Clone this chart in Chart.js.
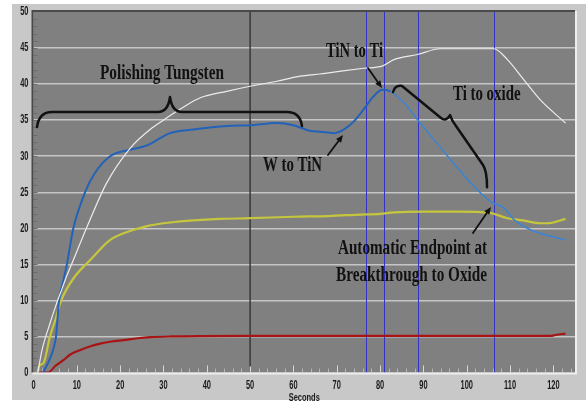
<!DOCTYPE html>
<html>
<head>
<meta charset="utf-8">
<title>Endpoint trace</title>
<script src="https://cdn.jsdelivr.net/npm/chart.js@4.4.1/dist/chart.umd.min.js"></script>
<style>
  html, body { margin: 0; padding: 0; background: #fff; }
  canvas { display: block; }
</style>
</head>
<body>
<canvas id="traceChart" width="586" height="402"></canvas>
<script>
// Trace values (x = seconds)
const whiteX = [1, 2, 3.8, 5, 6.5, 7.3, 9.2, 12.7, 16.9, 22.3, 26.9, 30, 33.8, 38.5, 44.6, 50, 56.2, 61.6, 66.2, 71, 76.2, 80.5, 83.2, 88.6, 93.9, 100.9, 106.3, 109.4, 113.2, 117, 122.8];
const whiteY = [0, 3.2, 6.8, 9, 11.5, 12.8, 15.6, 20.7, 26.3, 31.1, 33.7, 35, 36.5, 38.1, 39, 39.7, 40.4, 41.1, 41.4, 41.8, 42.2, 42.5, 43.4, 44.1, 44.9, 44.9, 44.9, 43.4, 40.6, 37.8, 34.6];

const blueX = [2.2, 3.5, 4.7, 5.2, 5.9, 6.9, 7.7, 9.2, 11.9, 14.2, 17.7, 22.3, 26.2, 29.2, 31.5, 36.9, 44.6, 50, 56.2, 60, 63.9, 66.2, 69.3, 71.6, 73.9, 76.2, 78.5, 80.5, 82.4, 85.5, 88.6, 92.4, 96.3, 100.9, 105.5, 108.6, 110.9, 114.7, 119.4, 122.8];
const blueY = [0, 1.5, 3.5, 5, 10, 12.8, 15, 20, 25, 27.7, 30, 30.9, 31.5, 32.5, 33.2, 33.7, 34.2, 34.3, 34.6, 34.3, 33.5, 33.4, 33.2, 33.7, 34.8, 36.5, 38.3, 39.2, 39, 37.4, 35.1, 32.3, 29.5, 26.3, 23.7, 22.8, 21.2, 19.8, 18.9, 18.4];

const yellowX = [1, 1.3, 2.3, 3.8, 5.2, 6.4, 9.4, 13.1, 17.5, 20.8, 26.2, 31.5, 36.9, 43, 50, 60, 68, 75.5, 80, 83.2, 90.1, 98, 105.5, 109.4, 113, 117, 118.6, 122.8];
const yellowY = [0, 0.9, 1.3, 5, 7.6, 10, 13.2, 15.6, 18.3, 19.3, 20.3, 20.8, 21.1, 21.3, 21.4, 21.6, 21.7, 21.9, 22.0, 22.2, 22.3, 22.3, 22.1, 21.4, 21.1, 20.7, 20.7, 21.3];

const redX = [1, 3.4, 5, 6.9, 8.5, 10.7, 13, 15.4, 18, 20.8, 24, 26.9, 32, 38.5, 50, 70, 90, 110, 119.4, 120.5, 122.8];
const redY = [0, 0, 0.9, 1.7, 2.5, 3.1, 3.6, 4.0, 4.3, 4.5, 4.75, 4.9, 5.0, 5.05, 5.07, 5.07, 5.07, 5.07, 5.07, 5.2, 5.4];

// Marker lines (seconds)
const polishLine = 50;
const endpointLines = [76.8, 80.8, 88.8, 106.3];

// Tick labels
const xTicks = [0, 10, 20, 30, 40, 50, 60, 70, 80, 90, 100, 110, 120];
const yTicks = [0, 5, 10, 15, 20, 25, 30, 35, 40, 45, 50];
const xTitle = 'Seconds';

function pts(xs, ys) {
    return xs.map((x, i) => ({ x: x, y: ys[i] }));
}

// Hand written notes, in data units: left, right, baseline
const notes = [
    { text: 'Polishing Tungsten', x0: 15.35, x1: 43.98, y: 40.71 },
    { text: 'TiN to Ti', x0: 67.52, x1: 80.68, y: 43.76 },
    { text: 'W to TiN', x0: 52.98, x1: 66.6, y: 27.95 },
    { text: 'Ti to oxide', x0: 96.84, x1: 112.42, y: 37.8 },
    { text: 'Automatic Endpoint at', x0: 70.29, x1: 104.69, y: 16.44 },
    { text: 'Breakthrough to Oxide', x0: 69.83, x1: 104.69, y: 12.69 }
];

const arrows = [
    [77.21, 42.23, 80.45, 39.46],
    [67.98, 30.17, 71.45, 32.94],
    [101.45, 19.35, 105.61, 22.96]
];

// narrow text: draw squeezed sideways, like the old screen font
function squeezed(ctx, text, x, y, sx, align) {
    ctx.save();
    const w = ctx.measureText(text).width * sx;
    let left = x;
    if (align === 'right') left = x - w;
    if (align === 'center') left = x - w / 2;
    ctx.translate(left, y);
    ctx.scale(sx, 1);
    ctx.fillText(text, 0, 0);
    ctx.restore();
}

// Panel, plot background and frame
const panelPlugin = {
    id: 'panel',
    beforeDraw(chart) {
        const { ctx, chartArea: a } = chart;
        ctx.save();
        ctx.fillStyle = '#ffffff';
        ctx.fillRect(0, 0, chart.width, chart.height);
        ctx.fillStyle = '#c8c8c8';
        ctx.fillRect(12, 4, chart.width - 12, chart.height - 6);
        ctx.fillStyle = '#808080';
        ctx.fillRect(a.left, a.top, a.right - a.left, a.bottom - a.top);
        ctx.restore();
    },
    beforeDatasetsDraw(chart) {
        const { ctx, chartArea: a, scales } = chart;
        const xs = scales.x, ys = scales.y;
        ctx.save();
        // minor ticks on the left
        ctx.strokeStyle = '#6c6c6c';
        ctx.lineWidth = 1;
        for (let v = 1; v < 50; v++) {
            const y = Math.round(ys.getPixelForValue(v)) + 0.5;
            ctx.beginPath();
            ctx.moveTo(a.left, y);
            ctx.lineTo(a.left + 4, y);
            ctx.stroke();
        }
        // ticks along the bottom
        for (let v = 2; v < 125; v += 2) {
            const x = Math.round(xs.getPixelForValue(v)) + 0.5;
            const major = v % 10 === 0;
            ctx.strokeStyle = major ? '#d8d8d8' : '#b4b4b4';
            ctx.beginPath();
            ctx.moveTo(x, a.bottom);
            ctx.lineTo(x, a.bottom - (major ? 7 : 4));
            ctx.stroke();
        }
        // polishing marker
        ctx.strokeStyle = '#383838';
        ctx.lineWidth = 1.5;
        let x = xs.getPixelForValue(polishLine);
        ctx.beginPath();
        ctx.moveTo(x, a.top);
        ctx.lineTo(x, a.bottom - 6);
        ctx.stroke();
        // endpoint markers
        ctx.strokeStyle = '#3434c4';
        ctx.lineWidth = 1;
        endpointLines.forEach(v => {
            const px = Math.round(xs.getPixelForValue(v)) + 0.5;
            ctx.beginPath();
            ctx.moveTo(px, a.top);
            ctx.lineTo(px, a.bottom);
            ctx.stroke();
        });
        ctx.restore();
    },
    afterDatasetsDraw(chart) {
        const { ctx, chartArea: a, scales } = chart;
        ctx.save();
        ctx.lineWidth = 2;
        ctx.strokeStyle = '#4a4a4a';
        ctx.beginPath();
        ctx.moveTo(a.left - 1, a.bottom);
        ctx.lineTo(a.left - 1, a.top - 1);
        ctx.lineTo(a.right, a.top - 1);
        ctx.stroke();
        ctx.strokeStyle = '#eeeeee';
        ctx.beginPath();
        ctx.moveTo(a.left - 1, a.bottom + 1);
        ctx.lineTo(a.right + 1, a.bottom + 1);
        ctx.lineTo(a.right + 1, a.top - 1);
        ctx.stroke();

        // axis labels in the narrow screen font
        ctx.fillStyle = '#1a1a1a';
        ctx.textBaseline = 'middle';
        ctx.font = "bold 12px 'Liberation Sans', Arial, sans-serif";
        yTicks.forEach(v => {
            squeezed(ctx, String(v), a.left - 5, scales.y.getPixelForValue(v), 0.62, 'right');
        });
        xTicks.forEach(v => {
            squeezed(ctx, String(v), scales.x.getPixelForValue(v), a.bottom + 13, 0.62, 'center');
        });
        ctx.font = "bold 11px 'Liberation Sans', Arial, sans-serif";
        squeezed(ctx, xTitle, (a.left + a.right) / 2, a.bottom + 25, 0.68, 'center');
        ctx.restore();
    }
};

// Notes, braces and arrows drawn on top
const notesPlugin = {
    id: 'notes',
    afterDraw(chart) {
        const { ctx, scales } = chart;
        const P = (x, y) => [scales.x.getPixelForValue(x), scales.y.getPixelForValue(y)];
        ctx.save();
        ctx.fillStyle = '#111111';
        ctx.strokeStyle = '#111111';
        ctx.textBaseline = 'alphabetic';
        notes.forEach(n => {
            const [l, b] = P(n.x0, n.y);
            const [r] = P(n.x1, n.y);
            ctx.save();
            ctx.font = "bold 20px 'Liberation Serif', 'Times New Roman', serif";
            const w = ctx.measureText(n.text).width;
            ctx.translate(l, b);
            ctx.scale((r - l) / w, 1);
            ctx.fillText(n.text, 0, 0);
            ctx.restore();
        });

        ctx.lineWidth = 2.5;
        ctx.lineCap = 'round';
        ctx.lineJoin = 'round';
        // brace over the polishing step
        let p;
        ctx.beginPath();
        p = P(0.81, 34.05); ctx.moveTo(p[0], p[1]);
        ctx.quadraticCurveTo(...P(1.27, 36.13), ...P(4.27, 36.13));
        p = P(28.74, 36.13); ctx.lineTo(p[0], p[1]);
        ctx.quadraticCurveTo(...P(31.05, 36.13), ...P(31.51, 38.21));
        ctx.quadraticCurveTo(...P(31.97, 36.13), ...P(34.28, 36.13));
        p = P(58.52, 36.13); ctx.lineTo(p[0], p[1]);
        ctx.quadraticCurveTo(...P(61.52, 36.13), ...P(61.98, 34.19));
        ctx.stroke();

        // brace along Ti to oxide
        ctx.beginPath();
        p = P(82.99, 38.9); ctx.moveTo(p[0], p[1]);
        ctx.quadraticCurveTo(...P(83.45, 39.88), ...P(85.07, 39.74));
        p = P(94.07, 35.3); ctx.lineTo(p[0], p[1]);
        ctx.quadraticCurveTo(...P(95.22, 34.74), ...P(96.15, 35.71));
        ctx.quadraticCurveTo(...P(96.61, 34.88), ...P(97.53, 34.19));
        p = P(103.76, 28.78); ctx.lineTo(p[0], p[1]);
        ctx.quadraticCurveTo(...P(104.69, 27.93), ...P(104.69, 25.71));
        ctx.stroke();

        // arrows
        ctx.lineWidth = 1.8;
        arrows.forEach(ar => {
            const [x1, y1] = P(ar[0], ar[1]);
            const [x2, y2] = P(ar[2], ar[3]);
            const ang = Math.atan2(y2 - y1, x2 - x1);
            ctx.beginPath();
            ctx.moveTo(x1, y1);
            ctx.lineTo(x2 - 5 * Math.cos(ang), y2 - 5 * Math.sin(ang));
            ctx.stroke();
            ctx.beginPath();
            ctx.moveTo(x2, y2);
            ctx.lineTo(x2 - 8 * Math.cos(ang - 0.4), y2 - 8 * Math.sin(ang - 0.4));
            ctx.lineTo(x2 - 8 * Math.cos(ang + 0.4), y2 - 8 * Math.sin(ang + 0.4));
            ctx.closePath();
            ctx.fill();
        });
        ctx.restore();
    }
};

const ctx = document.getElementById('traceChart').getContext('2d');
const traceChart = new Chart(ctx, {
    type: 'line',
    data: {
        datasets: [
            { label: 'White', data: pts(whiteX, whiteY), borderColor: '#ececec', borderWidth: 1.2, order: 0 },
            {
                label: 'Blue', data: pts(blueX, blueY), borderColor: '#2262b8', borderWidth: 2, order: 1,
                segment: {
                    borderColor: c => c.p0.parsed.x >= 82 ? '#3a84d4' : undefined,
                    borderWidth: c => c.p0.parsed.x >= 82 ? 1.5 : undefined
                }
            },
            { label: 'Yellow', data: pts(yellowX, yellowY), borderColor: '#c6c63e', borderWidth: 2.2, order: 2 },
            { label: 'Red', data: pts(redX, redY), borderColor: '#a81414', borderWidth: 2.2, order: 3 }
        ]
    },
    options: {
        responsive: false,
        animation: false,
        parsing: false,
        elements: {
            point: { radius: 0 },
            line: { cubicInterpolationMode: 'monotone' }
        },
        layout: { padding: { top: 12, right: 11, left: 0, bottom: 0 } },
        plugins: {
            legend: { display: false },
            tooltip: { enabled: false }
        },
        scales: {
            x: {
                type: 'linear',
                min: 0,
                max: 125,
                afterBuildTicks: scale => { scale.ticks = xTicks.map(v => ({ value: v })); },
                afterFit: scale => { scale.height = 29.5; },
                grid: { display: false, drawTicks: false },
                border: { display: false },
                ticks: { display: false }
            },
            y: {
                type: 'linear',
                min: 0,
                max: 50,
                afterBuildTicks: scale => { scale.ticks = yTicks.map(v => ({ value: v })); },
                afterFit: scale => { scale.width = 33.5; },
                grid: {
                    drawTicks: false,
                    lineWidth: 1.5,
                    color: c => (c.tick.value === 0 || c.tick.value === 50) ? 'rgba(0,0,0,0)' : '#c6c6c6'
                },
                border: { display: false },
                ticks: { display: false }
            }
        }
    },
    plugins: [panelPlugin, notesPlugin]
});
</script>
</body>
</html>
